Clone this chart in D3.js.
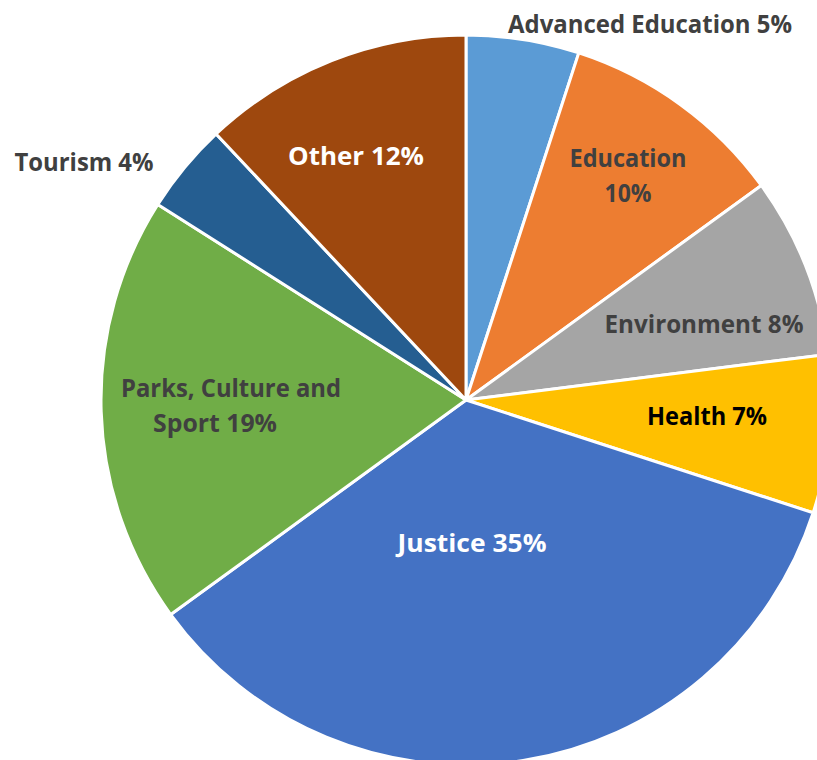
<!DOCTYPE html>
<html>
<head>
<meta charset="utf-8">
<script src="https://cdn.jsdelivr.net/npm/d3@7"></script>
<style>
  html, body { margin: 0; padding: 0; background: #fff; }
  svg { display: block; }
  text { font-family: "Open Sans", "Liberation Sans", sans-serif; font-weight: bold; }
</style>
</head>
<body>
<svg id="chart" width="817" height="760"></svg>
<script>
// ---- data ----
const categories = ["Advanced Education", "Education", "Environment", "Health", "Justice",
                    "Parks, Culture and Sport", "Tourism", "Other"];
const values = [5, 10, 8, 7, 35, 19, 4, 12];
const colors = ["#5B9BD5", "#ED7D31", "#A5A5A5", "#FFC000", "#4472C4", "#70AD47", "#255E91", "#9E480E"];

// ---- label layout (lines, center x, baseline y, width, colour) ----
const labelLayout = [
  { lines: ["Advanced Education 5%"], x: 650, y: 33, w: [284], fill: "#404040" },
  { lines: ["Education", "10%"], x: 628, y: 167, w: [117, 47], fill: "#404040" },
  { lines: ["Environment 8%"], x: 704, y: 333, w: [199], fill: "#404040" },
  { lines: ["Health 7%"], x: 707, y: 425, w: [120], fill: "#000000" },
  { lines: ["Justice 35%"], x: 472, y: 552, w: [149], fill: "#ffffff" },
  { lines: ["Parks, Culture and", "Sport 19%"], x: [231, 215], y: 397, w: [220, 124], fill: "#404040" },
  { lines: ["Tourism 4%"], x: 84, y: 171, w: [139], fill: "#404040" },
  { lines: ["Other 12%"], x: 356, y: 165, w: [136], fill: "#ffffff" }
];

const svg = d3.select("#chart");
const cx = 466, cy = 400, radius = 365;
const lineGap = 35;

const pie = d3.pie().sort(null).value(d => d)(values);
const arc = d3.arc().innerRadius(0).outerRadius(radius);
const color = d3.scaleOrdinal().domain(categories).range(colors);

const g = svg.append("g").attr("transform", `translate(${cx},${cy})`);
g.selectAll("path")
  .data(pie)
  .join("path")
  .attr("d", arc)
  .attr("fill", (d, i) => color(categories[i]))
  .attr("stroke", "#fff")
  .attr("stroke-width", 3)
  .attr("stroke-linejoin", "round");

labelLayout.forEach((lab, i) => {
  lab.lines.forEach((ln, j) => {
    const x = Array.isArray(lab.x) ? lab.x[j] : lab.x;
    svg.append("text")
      .attr("x", x)
      .attr("y", lab.y + j * lineGap)
      .attr("text-anchor", "middle")
      .attr("font-size", 25.5)
      .attr("fill", lab.fill)
      .attr("textLength", lab.w[j])
      .attr("lengthAdjust", "spacingAndGlyphs")
      .text(ln);
  });
});
</script>
</body>
</html>
